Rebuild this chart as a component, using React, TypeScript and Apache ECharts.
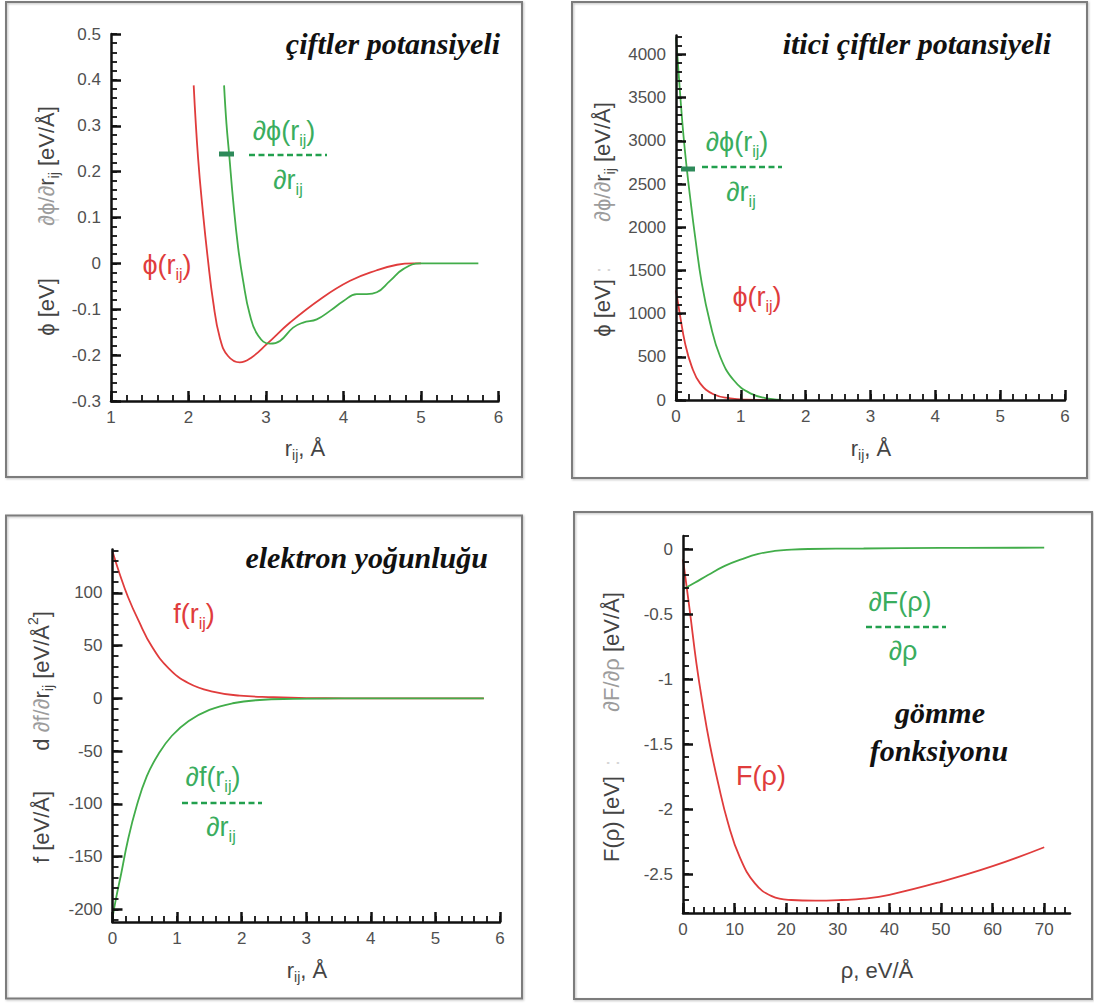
import React, { useEffect, useRef } from "react";
import * as echarts from "echarts";

// ---------- colours & fonts ----------
const RED = "#e03c3c";
const GREEN = "#42ad4a";
const GREEN_TEXT = "#3aad5e";
const DASH = "#22a04e";
const BAR = "#2e8a5a";
const AXIS = "#111111";
const TICK_TEXT = "#505050";
const TITLE_DARK = "#444444";
const TITLE_LIGHT = "#9c9c9c";
const SANS = "Liberation Sans";
const SERIF = "Liberation Serif";
const PHI = "ϕ";

// ---------- panel 1: çiftler potansiyeli ----------
const pairR = [2.067, 2.123, 2.188, 2.252, 2.317, 2.404, 2.51, 2.662, 2.814, 3.016, 3.31, 3.7, 4.085, 4.43, 4.69, 4.9, 5.0];
const pairPhi = [0.388, 0.231, 0.108, 0.006, -0.082, -0.162, -0.202, -0.216, -0.205, -0.175, -0.129, -0.078, -0.038, -0.015, -0.003, 0, 0];
const pairDR = [2.459, 2.49, 2.524, 2.576, 2.64, 2.705, 2.79, 2.9, 3.05, 3.18, 3.35, 3.48, 3.655, 3.83, 4.0, 4.17, 4.3, 4.43, 4.6, 4.775, 4.99, 5.74];
const pairDPhi = [0.388, 0.304, 0.239, 0.137, 0.035, -0.038, -0.111, -0.158, -0.175, -0.169, -0.14, -0.129, -0.122, -0.103, -0.082, -0.067, -0.067, -0.063, -0.038, -0.012, 0, 0];
const p1XTicks = [1, 2, 3, 4, 5, 6];
const p1YTicks = [-0.3, -0.2, -0.1, 0, 0.1, 0.2, 0.3, 0.4, 0.5];

// ---------- panel 2: itici çiftler potansiyeli ----------
const repR = [0, 0.06, 0.14, 0.243, 0.372, 0.578, 0.837, 1.096, 1.4];
const repPhi = [1270, 990, 656, 386, 193, 66, 20, 4, 0];
const repDR = [0, 0.03, 0.062, 0.113, 0.166, 0.217, 0.295, 0.398, 0.527, 0.682, 0.888, 1.147, 1.457, 1.65];
const repDPhi = [4200, 3900, 3560, 3080, 2682, 2353, 1890, 1350, 888, 501, 231, 77, 12, 0];
const p2XTicks = [0, 1, 2, 3, 4, 5, 6];
const p2YTicks = [0, 500, 1000, 1500, 2000, 2500, 3000, 3500, 4000];

// ---------- panel 3: elektron yoğunluğu ----------
const denR = [0, 0.11, 0.24, 0.4, 0.61, 0.87, 1.18, 1.55, 1.97, 2.49, 3.0, 3.6, 5.75];
const denF = [139, 118, 96, 74, 49, 28.4, 14.2, 6.3, 2.5, 1, 0.2, 0, 0];
const denDR = [0, 0.05, 0.135, 0.24, 0.37, 0.53, 0.71, 0.92, 1.18, 1.5, 1.86, 2.28, 2.8, 3.5, 5.75];
const denDF = [-208, -191, -166, -134, -103, -74, -53, -35.5, -21.5, -11, -4.7, -1.6, -0.5, 0, 0];
const p3XTicks = [0, 1, 2, 3, 4, 5, 6];
const p3YTicks = [-200, -150, -100, -50, 0, 50, 100];

// ---------- panel 4: gömme fonksiyonu ----------
const embRho = [0, 1.3, 2.6, 3.88, 5.18, 6.8, 8.74, 11.0, 13.9, 17.2, 21.0, 25.6, 30.8, 35, 40, 50, 60, 70];
const embF = [-0.08, -0.47, -0.88, -1.21, -1.5, -1.8, -2.11, -2.37, -2.57, -2.67, -2.7, -2.705, -2.7, -2.69, -2.66, -2.56, -2.44, -2.294];
const embDRho = [0, 2.27, 4.85, 8.1, 11.3, 14.6, 17.8, 21.0, 24.3, 35, 50, 70];
const embDF = [-0.31, -0.26, -0.2, -0.13, -0.08, -0.038, -0.015, -0.005, 0, 0.004, 0.008, 0.01];
const p4XTicks = [0, 10, 20, 30, 40, 50, 60, 70];
const p4YTicks = [-2.5, -2, -1.5, -1, -0.5, 0];

// ---------- helpers ----------
const steps = (a: number, b: number, s: number) =>
  Array.from({ length: Math.round((b - a) / s) + 1 }, (_, i) => +(a + i * s).toFixed(4));

const zip = (xs: number[], ys: number[]) => xs.map((x, i) => [x, ys[i]]);

const fmt = (v: number) => String(+(+v).toFixed(2));

let measureCtx: CanvasRenderingContext2D | null = null;
function measure(t: string, size: number, family: string, style = "normal", weight = "normal") {
  if (!measureCtx) measureCtx = document.createElement("canvas").getContext("2d");
  measureCtx!.font = `${style} ${weight} ${size}px "${family}"`;
  return measureCtx!.measureText(t).width;
}

type Run = { t: string; size?: number; dy?: number; fill?: string };

// A row of text runs (for sub/superscripts), centred on (x, y), optionally rotated.
function textRow(
  runs: Run[],
  o: { x: number; y: number; size: number; fill: string; rotation?: number; family?: string }
) {
  const fam = o.family || SANS;
  const sizes = runs.map((r) => r.size ?? o.size);
  const widths = runs.map((r, i) => measure(r.t, sizes[i], fam));
  const total = widths.reduce((a, b) => a + b, 0);
  let cx = -total / 2;
  const children = runs.map((r, i) => {
    const el = {
      type: "text",
      x: cx,
      y: r.dy || 0,
      style: {
        text: r.t,
        fontSize: sizes[i],
        fontFamily: fam,
        fill: r.fill || o.fill,
        align: "left",
        verticalAlign: "middle",
      },
    };
    cx += widths[i];
    return el;
  });
  return { type: "group", x: o.x, y: o.y, rotation: o.rotation || 0, z: 20, children };
}

// Main axis (line, labels, long ticks) plus an overlay axis carrying the short minor ticks.
function axisPair(
  dim: "x" | "y",
  gridIndex: number,
  min: number,
  max: number,
  majors: number[],
  minors: number[]
) {
  const position = dim === "x" ? "bottom" : "left";
  const main = {
    type: "value",
    gridIndex,
    min,
    max,
    position,
    z: 5,
    axisLine: { show: true, onZero: false, lineStyle: { color: AXIS, width: 2.5 } },
    axisTick: { show: true, inside: true, length: 10, customValues: majors, lineStyle: { color: AXIS, width: 2.5 } },
    axisLabel: {
      show: true,
      customValues: majors,
      formatter: fmt,
      color: TICK_TEXT,
      fontSize: 17,
      fontFamily: SANS,
      margin: dim === "x" ? 8 : 10,
    },
    splitLine: { show: false },
  };
  const minor = {
    type: "value",
    gridIndex,
    min,
    max,
    position,
    z: 5,
    axisLine: { show: false, onZero: false },
    axisTick: { show: true, inside: true, length: 6, customValues: minors, lineStyle: { color: AXIS, width: 1.8 } },
    axisLabel: { show: false },
    splitLine: { show: false },
  };
  return [main, minor];
}

function line(xs: number[], ys: number[], color: string, panel: number) {
  return {
    type: "line",
    xAxisIndex: panel * 2,
    yAxisIndex: panel * 2,
    data: zip(xs, ys),
    showSymbol: false,
    smooth: 0.45,
    lineStyle: { color, width: 1.8 },
    itemStyle: { color },
    silent: true,
  };
}

function frame(x: number, y: number, w: number, h: number) {
  return {
    type: "rect",
    z: 0,
    shape: { x, y, width: w, height: h },
    style: {
      fill: "none",
      stroke: "#7b7b7b",
      lineWidth: 2,
      shadowBlur: 2,
      shadowColor: "rgba(0,0,0,0.25)",
      shadowOffsetX: 1,
      shadowOffsetY: 1,
    },
  };
}

function title(text: string, x: number, y: number, align = "right") {
  return {
    type: "text",
    x,
    y,
    z: 20,
    style: {
      text,
      fontSize: 30,
      fontFamily: SERIF,
      fontWeight: "bold",
      fontStyle: "italic",
      fill: "#111",
      align,
      verticalAlign: "middle",
    },
  };
}

function dashed(x1: number, x2: number, y: number) {
  return {
    type: "line",
    z: 20,
    shape: { x1, y1: y, x2, y2: y },
    style: { stroke: DASH, lineWidth: 2.5, lineDash: [6, 3.5] },
  };
}

function bar(x1: number, x2: number, y: number) {
  return {
    type: "line",
    z: 20,
    shape: { x1, y1: y, x2, y2: y },
    style: { stroke: BAR, lineWidth: 5 },
  };
}

const LBL = 27;
const SUB = 16;
const SUB_DY = 9;
const AX = 22;
const AX_SUB = 14;
const ROT = Math.PI / 2;

const sub = (t: string, size = SUB, dy = SUB_DY): Run => ({ t, size, dy });

function buildOption() {
  const grids = [
    { left: 111, top: 34, width: 387.5, height: 367 },
    { left: 676, top: 35.5, width: 389, height: 364.5 },
    { left: 112.5, top: 549.5, width: 387.5, height: 372.5 },
    { left: 683, top: 536, width: 387, height: 377 },
  ];

  const xAxis = [
    ...axisPair("x", 0, 1, 6, p1XTicks, steps(1, 6, 0.2)),
    ...axisPair("x", 1, 0, 6, p2XTicks, steps(0, 6, 0.2)),
    ...axisPair("x", 2, 0, 6, p3XTicks, steps(0, 6, 0.2)),
    ...axisPair("x", 3, 0, 75, p4XTicks, steps(0, 74, 2)),
  ];
  const yAxis = [
    ...axisPair("y", 0, -0.3, 0.5, p1YTicks, steps(-0.3, 0.5, 0.02)),
    ...axisPair("y", 1, 0, 4220, p2YTicks, steps(0, 4200, 100)),
    ...axisPair("y", 2, -212, 141, p3YTicks, steps(-210, 140, 10)),
    ...axisPair("y", 3, -2.8, 0.1, p4YTicks, steps(-2.8, 0.1, 0.1)),
  ];

  const series = [
    line(pairR, pairPhi, RED, 0),
    line(pairDR, pairDPhi, GREEN, 0),
    line(repR, repPhi, RED, 1),
    line(repDR, repDPhi, GREEN, 1),
    line(denR, denF, RED, 2),
    line(denDR, denDF, GREEN, 2),
    line(embRho, embF, RED, 3),
    line(embDRho, embDF, GREEN, 3),
  ];

  const graphic: any[] = [
    frame(6, 2, 516, 475),
    frame(572, 2, 515, 476),
    frame(6, 515.5, 516, 483),
    frame(574, 512, 518, 487),

    title("çiftler potansiyeli", 500, 43),
    title("itici çiftler potansiyeli", 1051, 43),
    title("elektron yoğunluğu", 488, 557),
    title("gömme", 940, 712, "center"),
    title("fonksiyonu", 939, 750, "center"),

    // panel 1 curve labels
    textRow([{ t: PHI + "(r" }, sub("ij"), { t: ")" }], { x: 167, y: 265, size: LBL, fill: RED }),
    textRow([{ t: "∂" + PHI + "(r" }, sub("ij"), { t: ")" }], { x: 284, y: 131, size: LBL, fill: GREEN_TEXT }),
    dashed(249, 327, 155),
    textRow([{ t: "∂r" }, sub("ij")], { x: 288, y: 180, size: LBL, fill: GREEN_TEXT }),
    bar(219, 234, 154),

    // panel 2 curve labels
    textRow([{ t: "∂" + PHI + "(r" }, sub("ij"), { t: ")" }], { x: 737, y: 142, size: LBL, fill: GREEN_TEXT }),
    dashed(702, 782, 167),
    textRow([{ t: "∂r" }, sub("ij")], { x: 741, y: 192, size: LBL, fill: GREEN_TEXT }),
    bar(681, 695, 169),
    textRow([{ t: PHI + "(r" }, sub("ij"), { t: ")" }], { x: 757, y: 297, size: LBL, fill: RED }),

    // panel 3 curve labels
    textRow([{ t: "f(r" }, sub("ij"), { t: ")" }], { x: 194, y: 614, size: LBL, fill: RED }),
    textRow([{ t: "∂f(r" }, sub("ij"), { t: ")" }], { x: 213, y: 777, size: LBL, fill: GREEN_TEXT }),
    dashed(182, 262, 803),
    textRow([{ t: "∂r" }, sub("ij")], { x: 221, y: 827, size: LBL, fill: GREEN_TEXT }),

    // panel 4 curve labels
    textRow([{ t: "∂F(ρ)" }], { x: 900, y: 602, size: LBL, fill: GREEN_TEXT }),
    dashed(866, 946, 627),
    textRow([{ t: "∂ρ" }], { x: 903, y: 651, size: LBL, fill: GREEN_TEXT }),
    textRow([{ t: "F(ρ)" }], { x: 761, y: 776, size: LBL, fill: RED }),

    // x axis titles
    textRow([{ t: "r" }, sub("ij", AX_SUB, 7), { t: ", Å" }], { x: 305, y: 448, size: AX, fill: TITLE_DARK }),
    textRow([{ t: "r" }, sub("ij", AX_SUB, 7), { t: ", Å" }], { x: 871, y: 448, size: AX, fill: TITLE_DARK }),
    textRow([{ t: "r" }, sub("ij", AX_SUB, 7), { t: ", Å" }], { x: 307, y: 970, size: AX, fill: TITLE_DARK }),
    textRow([{ t: "ρ, eV/Å" }], { x: 877, y: 970, size: AX, fill: TITLE_DARK }),

    // y axis titles (rotated, reading upward)
    textRow([{ t: PHI + " [eV]" }], { x: 46.5, y: 307, size: AX, fill: TITLE_DARK, rotation: ROT }),
    textRow([{ t: "|" }], { x: 46.5, y: 220, size: AX, fill: "#e2e2e2", rotation: ROT }),
    textRow(
      [{ t: "∂" + PHI + "/∂", fill: TITLE_LIGHT }, { t: "r" }, sub("ij", AX_SUB, 7), { t: " [eV/Å]" }],
      { x: 46.5, y: 166, size: AX, fill: TITLE_DARK, rotation: ROT }
    ),

    textRow([{ t: PHI + " [eV]" }], { x: 602.7, y: 308, size: AX, fill: TITLE_DARK, rotation: ROT }),
    textRow([{ t: ":" }], { x: 602.7, y: 270, size: AX, fill: "#d6d6d6", rotation: ROT }),
    textRow(
      [{ t: "∂" + PHI + "/∂", fill: TITLE_LIGHT }, { t: "r" }, sub("ij", AX_SUB, 7), { t: " [eV/Å]" }],
      { x: 602.7, y: 162, size: AX, fill: TITLE_DARK, rotation: ROT }
    ),

    textRow([{ t: "f [eV/Å]" }], { x: 41, y: 827, size: AX, fill: TITLE_DARK, rotation: ROT }),
    textRow(
      [
        { t: "d " },
        { t: "∂f/∂", fill: TITLE_LIGHT },
        { t: "r" },
        sub("ij", AX_SUB, 7),
        { t: " [eV/Å" },
        { t: "2", size: AX_SUB, dy: -8 },
        { t: "]" },
      ],
      { x: 41, y: 681, size: AX, fill: TITLE_DARK, rotation: ROT }
    ),

    textRow([{ t: "F(ρ) [eV]" }], { x: 611, y: 819, size: AX, fill: TITLE_DARK, rotation: ROT }),
    textRow([{ t: ":" }], { x: 611, y: 763, size: AX, fill: "#d6d6d6", rotation: ROT }),
    textRow(
      [{ t: "∂F/∂ρ", fill: TITLE_LIGHT }, { t: " [eV/Å]" }],
      { x: 611, y: 652, size: AX, fill: TITLE_DARK, rotation: ROT }
    ),
  ];

  return {
    animation: false,
    backgroundColor: "#ffffff",
    grid: grids,
    xAxis,
    yAxis,
    series,
    graphic,
  };
}

export default function App() {
  const ref = useRef<HTMLDivElement>(null);
  useEffect(() => {
    if (!ref.current) return;
    const chart = echarts.init(ref.current, undefined, { renderer: "svg" });
    chart.setOption(buildOption() as any);
    return () => chart.dispose();
  }, []);
  return (
    <div
      ref={ref}
      style={{ position: "absolute", left: 0, top: 0, width: 1094, height: 1003, background: "#ffffff" }}
    />
  );
}
